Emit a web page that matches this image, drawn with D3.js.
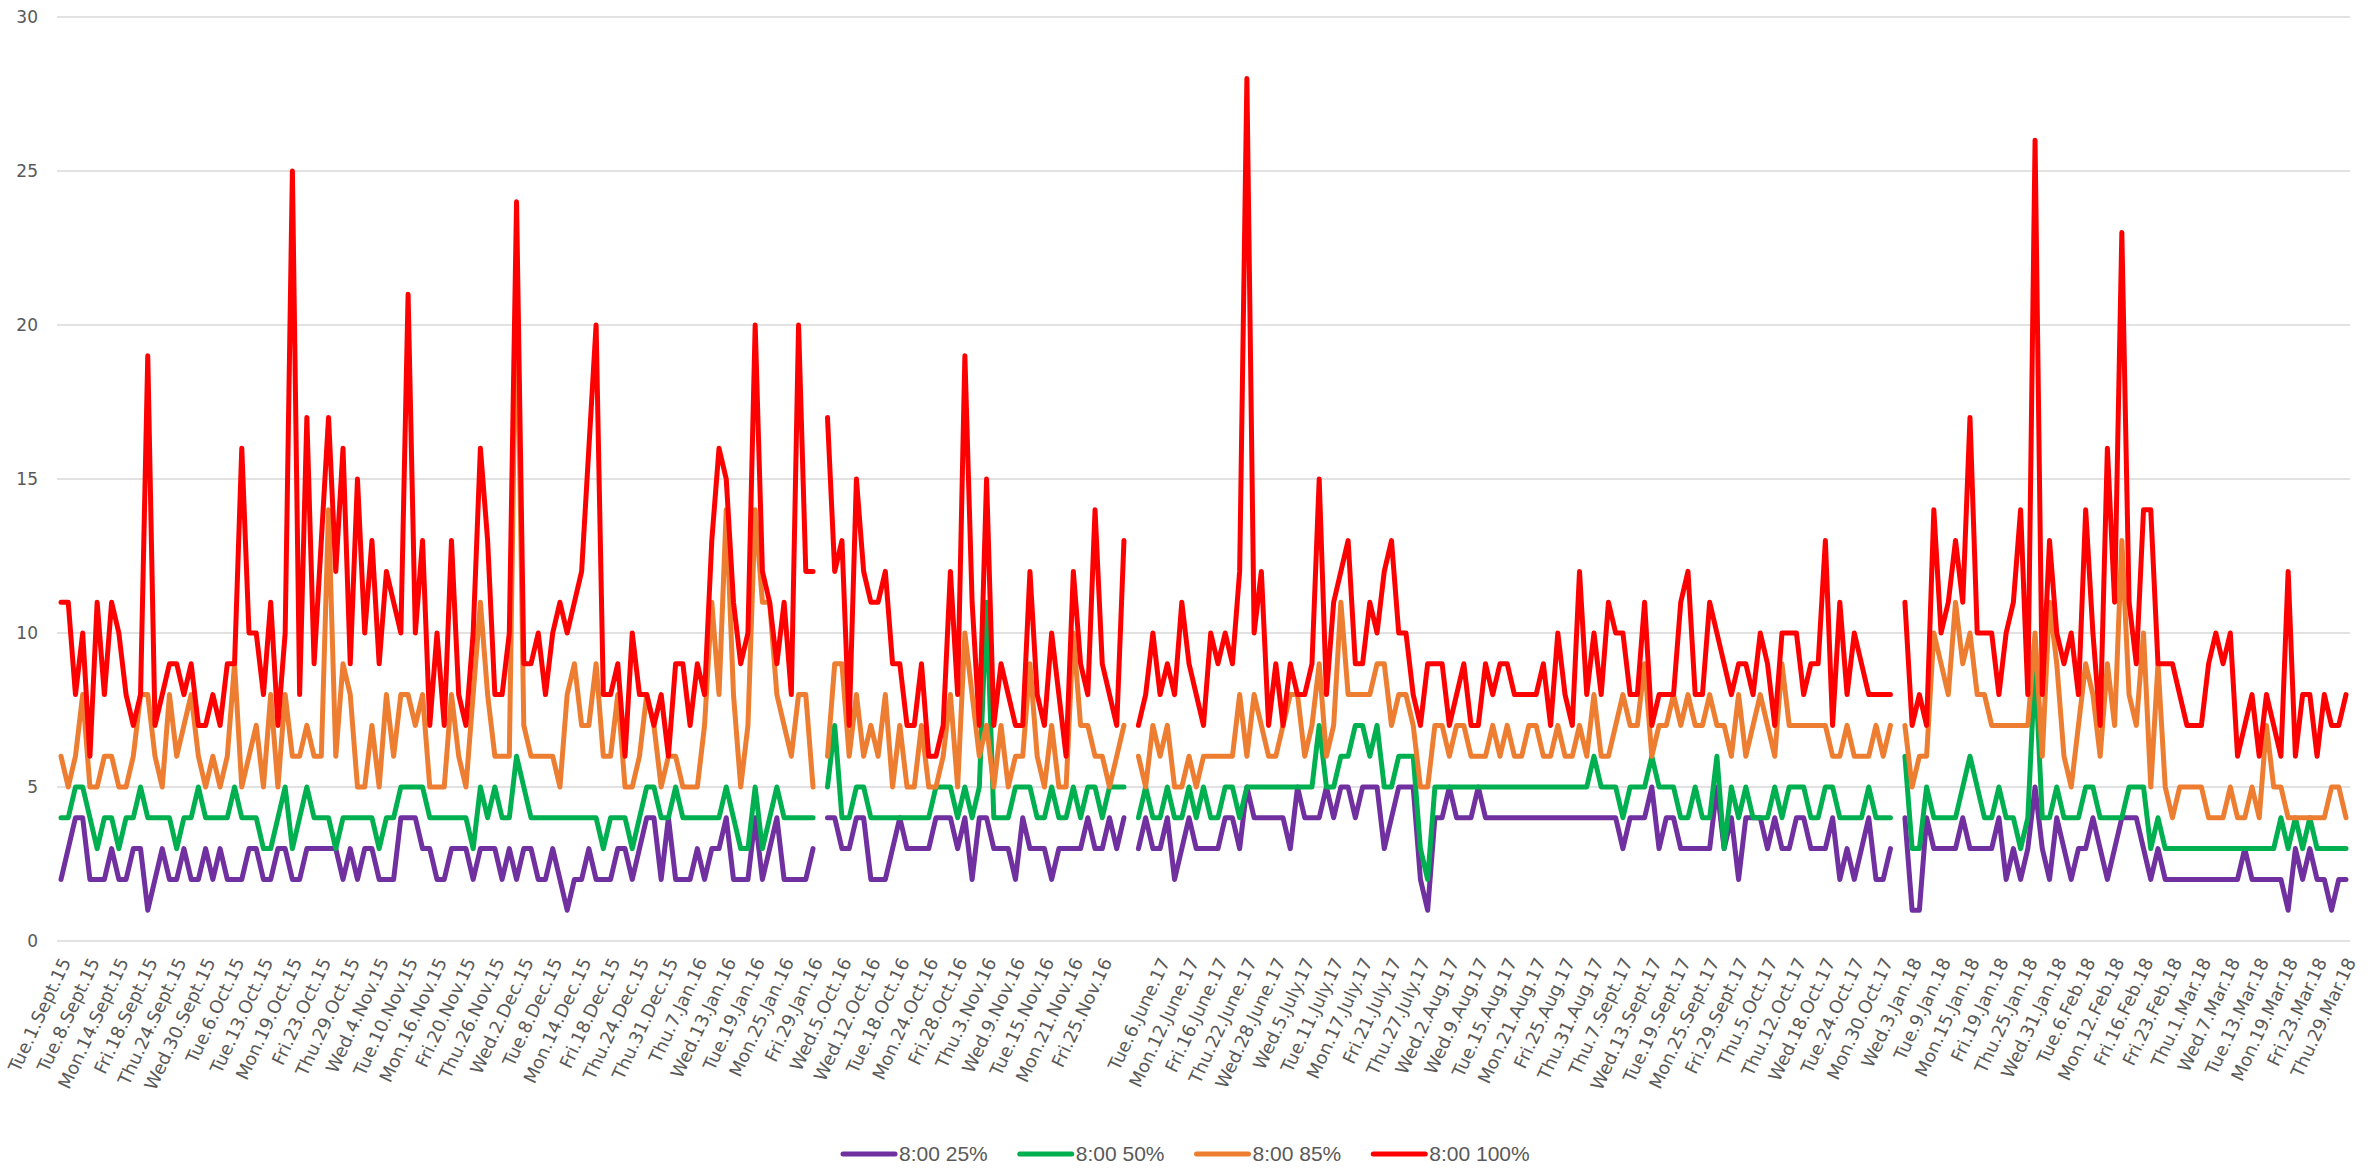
<!DOCTYPE html>
<html><head><meta charset="utf-8">
<script src="https://cdn.jsdelivr.net/npm/d3@7"></script>
<style>html,body{margin:0;padding:0;background:#fff;} svg{display:block;}</style>
</head><body>
<svg id="chart" width="2379" height="1173"></svg>
<script>
// ---- categories (working days; "" = empty row in the sheet) ----
const categories1 = "Tue.1.Sept.15,Wed.2.Sept.15,Thu.3.Sept.15,Fri.4.Sept.15,Tue.8.Sept.15,Wed.9.Sept.15,Thu.10.Sept.15,Fri.11.Sept.15,Mon.14.Sept.15,Tue.15.Sept.15,Wed.16.Sept.15,Thu.17.Sept.15,Fri.18.Sept.15,Mon.21.Sept.15,Tue.22.Sept.15,Wed.23.Sept.15,Thu.24.Sept.15,Fri.25.Sept.15,Mon.28.Sept.15,Tue.29.Sept.15,Wed.30.Sept.15,Thu.1.Oct.15,Fri.2.Oct.15,Mon.5.Oct.15,Tue.6.Oct.15,Wed.7.Oct.15,Thu.8.Oct.15,Fri.9.Oct.15,Tue.13.Oct.15,Wed.14.Oct.15,Thu.15.Oct.15,Fri.16.Oct.15,Mon.19.Oct.15,Tue.20.Oct.15,Wed.21.Oct.15,Thu.22.Oct.15,Fri.23.Oct.15,Mon.26.Oct.15,Tue.27.Oct.15,Wed.28.Oct.15,Thu.29.Oct.15,Fri.30.Oct.15,Mon.2.Nov.15,Tue.3.Nov.15,Wed.4.Nov.15,Thu.5.Nov.15,Fri.6.Nov.15,Mon.9.Nov.15,Tue.10.Nov.15,Wed.11.Nov.15,Thu.12.Nov.15,Fri.13.Nov.15,Mon.16.Nov.15,Tue.17.Nov.15,Wed.18.Nov.15,Thu.19.Nov.15,Fri.20.Nov.15,Mon.23.Nov.15,Tue.24.Nov.15,Wed.25.Nov.15,Thu.26.Nov.15,Fri.27.Nov.15,Mon.30.Nov.15,Tue.1.Dec.15,Wed.2.Dec.15,Thu.3.Dec.15,Fri.4.Dec.15,Mon.7.Dec.15,Tue.8.Dec.15,Wed.9.Dec.15,Thu.10.Dec.15,Fri.11.Dec.15,Mon.14.Dec.15,Tue.15.Dec.15,Wed.16.Dec.15,Thu.17.Dec.15,Fri.18.Dec.15,Mon.21.Dec.15,Tue.22.Dec.15,Wed.23.Dec.15,Thu.24.Dec.15,Mon.28.Dec.15,Tue.29.Dec.15,Wed.30.Dec.15,Thu.31.Dec.15,Mon.4.Jan.16,Tue.5.Jan.16,Wed.6.Jan.16,Thu.7.Jan.16,Fri.8.Jan.16,Mon.11.Jan.16,Tue.12.Jan.16,Wed.13.Jan.16,Thu.14.Jan.16,Fri.15.Jan.16,Mon.18.Jan.16,Tue.19.Jan.16,Wed.20.Jan.16,Thu.21.Jan.16,Fri.22.Jan.16,Mon.25.Jan.16,Tue.26.Jan.16,Wed.27.Jan.16,Thu.28.Jan.16,Fri.29.Jan.16".split(",");
const categories2 = "Mon.3.Oct.16,Tue.4.Oct.16,Wed.5.Oct.16,Thu.6.Oct.16,Fri.7.Oct.16,Tue.11.Oct.16,Wed.12.Oct.16,Thu.13.Oct.16,Fri.14.Oct.16,Mon.17.Oct.16,Tue.18.Oct.16,Wed.19.Oct.16,Thu.20.Oct.16,Fri.21.Oct.16,Mon.24.Oct.16,Tue.25.Oct.16,Wed.26.Oct.16,Thu.27.Oct.16,Fri.28.Oct.16,Mon.31.Oct.16,Tue.1.Nov.16,Wed.2.Nov.16,Thu.3.Nov.16,Fri.4.Nov.16,Mon.7.Nov.16,Tue.8.Nov.16,Wed.9.Nov.16,Thu.10.Nov.16,Fri.11.Nov.16,Mon.14.Nov.16,Tue.15.Nov.16,Wed.16.Nov.16,Thu.17.Nov.16,Fri.18.Nov.16,Mon.21.Nov.16,Tue.22.Nov.16,Wed.23.Nov.16,Thu.24.Nov.16,Fri.25.Nov.16,Mon.28.Nov.16,Tue.29.Nov.16,Wed.30.Nov.16".split(",");
const categories3 = "Thu.1.June.17,Fri.2.June.17,Mon.5.June.17,Tue.6.June.17,Wed.7.June.17,Thu.8.June.17,Fri.9.June.17,Mon.12.June.17,Tue.13.June.17,Wed.14.June.17,Thu.15.June.17,Fri.16.June.17,Mon.19.June.17,Tue.20.June.17,Wed.21.June.17,Thu.22.June.17,Fri.23.June.17,Mon.26.June.17,Tue.27.June.17,Wed.28.June.17,Thu.29.June.17,Fri.30.June.17,Mon.3.July.17,Wed.5.July.17,Thu.6.July.17,Fri.7.July.17,Mon.10.July.17,Tue.11.July.17,Wed.12.July.17,Thu.13.July.17,Fri.14.July.17,Mon.17.July.17,Tue.18.July.17,Wed.19.July.17,Thu.20.July.17,Fri.21.July.17,Mon.24.July.17,Tue.25.July.17,Wed.26.July.17,Thu.27.July.17,Fri.28.July.17,Mon.31.July.17,Tue.1.Aug.17,Wed.2.Aug.17,Thu.3.Aug.17,Fri.4.Aug.17,Tue.8.Aug.17,Wed.9.Aug.17,Thu.10.Aug.17,Fri.11.Aug.17,Mon.14.Aug.17,Tue.15.Aug.17,Wed.16.Aug.17,Thu.17.Aug.17,Fri.18.Aug.17,Mon.21.Aug.17,Tue.22.Aug.17,Wed.23.Aug.17,Thu.24.Aug.17,Fri.25.Aug.17,Mon.28.Aug.17,Tue.29.Aug.17,Wed.30.Aug.17,Thu.31.Aug.17,Fri.1.Sept.17,Tue.5.Sept.17,Wed.6.Sept.17,Thu.7.Sept.17,Fri.8.Sept.17,Mon.11.Sept.17,Tue.12.Sept.17,Wed.13.Sept.17,Thu.14.Sept.17,Fri.15.Sept.17,Mon.18.Sept.17,Tue.19.Sept.17,Wed.20.Sept.17,Thu.21.Sept.17,Fri.22.Sept.17,Mon.25.Sept.17,Tue.26.Sept.17,Wed.27.Sept.17,Thu.28.Sept.17,Fri.29.Sept.17,Mon.2.Oct.17,Tue.3.Oct.17,Wed.4.Oct.17,Thu.5.Oct.17,Fri.6.Oct.17,Tue.10.Oct.17,Wed.11.Oct.17,Thu.12.Oct.17,Fri.13.Oct.17,Mon.16.Oct.17,Tue.17.Oct.17,Wed.18.Oct.17,Thu.19.Oct.17,Fri.20.Oct.17,Mon.23.Oct.17,Tue.24.Oct.17,Wed.25.Oct.17,Thu.26.Oct.17,Fri.27.Oct.17,Mon.30.Oct.17,Tue.31.Oct.17".split(",");
const categories4 = "Tue.2.Jan.18,Wed.3.Jan.18,Thu.4.Jan.18,Fri.5.Jan.18,Mon.8.Jan.18,Tue.9.Jan.18,Wed.10.Jan.18,Thu.11.Jan.18,Fri.12.Jan.18,Mon.15.Jan.18,Tue.16.Jan.18,Wed.17.Jan.18,Thu.18.Jan.18,Fri.19.Jan.18,Mon.22.Jan.18,Tue.23.Jan.18,Wed.24.Jan.18,Thu.25.Jan.18,Fri.26.Jan.18,Mon.29.Jan.18,Tue.30.Jan.18,Wed.31.Jan.18,Thu.1.Feb.18,Fri.2.Feb.18,Mon.5.Feb.18,Tue.6.Feb.18,Wed.7.Feb.18,Thu.8.Feb.18,Fri.9.Feb.18,Mon.12.Feb.18,Tue.13.Feb.18,Wed.14.Feb.18,Thu.15.Feb.18,Fri.16.Feb.18,Tue.20.Feb.18,Wed.21.Feb.18,Thu.22.Feb.18,Fri.23.Feb.18,Mon.26.Feb.18,Tue.27.Feb.18,Wed.28.Feb.18,Thu.1.Mar.18,Fri.2.Mar.18,Mon.5.Mar.18,Tue.6.Mar.18,Wed.7.Mar.18,Thu.8.Mar.18,Fri.9.Mar.18,Mon.12.Mar.18,Tue.13.Mar.18,Wed.14.Mar.18,Thu.15.Mar.18,Fri.16.Mar.18,Mon.19.Mar.18,Tue.20.Mar.18,Wed.21.Mar.18,Thu.22.Mar.18,Fri.23.Mar.18,Mon.26.Mar.18,Tue.27.Mar.18,Wed.28.Mar.18,Thu.29.Mar.18".split(",");
const categories = [...categories1, "", ...categories2, "", ...categories3, "", ...categories4];

const seriesNames = ["8:00 25%", "8:00 50%", "8:00 85%", "8:00 100%"];
const seriesColors = ["#7030A0", "#00B050", "#ED7D31", "#FF0000"];
const yTickValues = [0, 5, 10, 15, 20, 25, 30];
const tickEvery = 4;

const values25 = [
 2,3,4,4,2,2,2,3,2,2,
 3,3,1,2,3,2,2,3,2,2,
 3,2,3,2,2,2,3,3,2,2,
 3,3,2,2,3,3,3,3,3,2,
 3,2,3,3,2,2,2,4,4,4,
 3,3,2,2,3,3,3,2,3,3,
 3,2,3,2,3,3,2,2,3,2,
 1,2,2,3,2,2,2,3,3,2,
 3,4,4,2,4,2,2,2,3,2,
 3,3,4,2,2,2,4,2,3,4,
 2,2,2,2,3,null,4,4,3,3,
 4,4,2,2,2,3,4,3,3,3,
 3,4,4,4,3,4,2,4,4,3,
 3,3,2,4,3,3,3,2,3,3,
 3,3,4,3,3,4,3,4,null,3,
 4,3,3,4,2,3,4,3,3,3,
 3,4,4,3,5,4,4,4,4,4,
 3,5,4,4,4,5,4,5,5,4,
 5,5,5,3,4,5,5,5,2,1,
 4,4,5,4,4,4,5,4,4,4,
 4,4,4,4,4,4,4,4,4,4,
 4,4,4,4,4,4,3,4,4,4,
 5,3,4,4,3,3,3,3,3,5,
 3,4,2,4,4,4,3,4,3,3,
 4,4,3,3,3,4,2,3,2,3,
 4,2,2,3,null,4,1,1,4,3,
 3,3,3,4,3,3,3,3,4,2,
 3,2,3,5,3,2,4,3,2,3,
 3,4,3,2,3,4,4,4,3,2,
 3,2,2,2,2,2,2,2,2,2,
 2,2,3,2,2,2,2,2,1,3,
 2,3,2,2,1,2,2];
const values50 = [
 4,4,5,5,4,3,4,4,3,4,
 4,5,4,4,4,4,3,4,4,5,
 4,4,4,4,5,4,4,4,3,3,
 4,5,3,4,5,4,4,4,3,4,
 4,4,4,4,3,4,4,5,5,5,
 5,4,4,4,4,4,4,3,5,4,
 5,4,4,6,5,4,4,4,4,4,
 4,4,4,4,4,3,4,4,4,3,
 4,5,5,4,4,5,4,4,4,4,
 4,4,5,4,3,3,5,3,4,5,
 4,4,4,4,4,null,5,7,4,4,
 5,5,4,4,4,4,4,4,4,4,
 4,5,5,5,4,5,4,5,11,4,
 4,4,5,5,5,4,4,5,4,4,
 5,4,5,5,4,5,5,5,null,4,
 5,4,4,5,4,4,5,4,5,4,
 4,5,5,4,5,5,5,5,5,5,
 5,5,5,5,7,5,5,6,6,7,
 7,6,7,5,5,6,6,6,3,2,
 5,5,5,5,5,5,5,5,5,5,
 5,5,5,5,5,5,5,5,5,5,
 5,5,6,5,5,5,4,5,5,5,
 6,5,5,5,4,4,5,4,4,6,
 3,5,4,5,4,4,4,5,4,5,
 5,5,4,4,5,5,4,4,4,4,
 5,4,4,4,null,6,3,3,5,4,
 4,4,4,5,6,5,4,4,5,4,
 4,3,4,9,4,4,5,4,4,4,
 5,5,4,4,4,4,5,5,5,3,
 4,3,3,3,3,3,3,3,3,3,
 3,3,3,3,3,3,3,4,3,4,
 3,4,3,3,3,3,3];
const values85 = [
 6,5,6,8,5,5,6,6,5,5,
 6,8,8,6,5,8,6,7,8,6,
 5,6,5,6,9,5,6,7,5,8,
 5,8,6,6,7,6,6,14,6,9,
 8,5,5,7,5,8,6,8,8,7,
 8,5,5,5,8,6,5,8,11,8,
 6,6,6,22,7,6,6,6,6,5,
 8,9,7,7,9,6,6,8,5,5,
 6,8,7,5,6,6,5,5,5,7,
 11,8,14,8,5,7,14,11,11,8,
 7,6,8,8,5,null,6,9,9,6,
 8,6,7,6,8,5,7,5,5,7,
 5,5,6,8,5,10,8,6,7,5,
 7,5,6,6,9,6,5,7,5,5,
 10,7,7,6,6,5,6,7,null,6,
 5,7,6,7,5,5,6,5,6,6,
 6,6,6,8,6,8,7,6,6,7,
 8,8,6,7,9,6,7,11,8,8,
 8,8,9,9,7,8,8,7,5,5,
 7,7,6,7,7,6,6,6,7,6,
 7,6,6,7,7,6,6,7,6,6,
 7,6,8,6,6,7,8,7,7,9,
 6,7,7,8,7,8,7,7,8,7,
 7,6,8,6,7,8,7,6,9,7,
 7,7,7,7,7,6,6,7,6,6,
 6,7,6,7,null,7,5,6,6,10,
 9,8,11,9,10,8,8,7,7,7,
 7,7,7,10,6,11,9,6,5,7,
 9,8,6,9,7,13,8,7,10,5,
 9,5,4,5,5,5,5,4,4,4,
 5,4,4,5,4,7,5,5,4,4,
 4,4,4,4,5,5,4];
const values100 = [
 11,11,8,10,6,11,8,11,10,8,
 7,8,19,7,8,9,9,8,9,7,
 7,8,7,9,9,16,10,10,8,11,
 7,10,25,8,17,9,13,17,12,16,
 9,15,10,13,9,12,11,10,21,10,
 13,7,10,7,13,8,7,10,16,13,
 8,8,10,24,9,9,10,8,10,11,
 10,11,12,16,20,8,8,9,6,10,
 8,8,7,8,6,9,9,7,9,8,
 13,16,15,11,9,10,20,12,11,9,
 11,8,20,12,12,null,17,12,13,7,
 15,12,11,11,12,9,9,7,7,9,
 6,6,7,12,8,19,11,7,15,7,
 9,8,7,7,12,8,7,10,8,6,
 12,9,8,14,9,8,7,13,null,7,
 8,10,8,9,8,11,9,8,7,10,
 9,10,9,12,28,10,12,7,9,7,
 9,8,8,9,15,8,11,12,13,9,
 9,11,10,12,13,10,10,8,7,9,
 9,9,7,8,9,7,7,9,8,9,
 9,8,8,8,8,9,7,10,8,7,
 12,8,10,8,11,10,10,8,8,11,
 7,8,8,8,11,12,8,8,11,10,
 9,8,9,9,8,10,9,7,10,10,
 10,8,9,9,13,7,11,8,10,9,
 8,8,8,8,null,11,7,8,7,14,
 10,11,13,11,17,10,10,10,8,10,
 11,14,8,26,8,13,10,9,10,8,
 14,10,7,16,11,23,11,9,14,14,
 9,9,9,8,7,7,7,9,10,9,
 10,6,7,8,6,8,7,6,12,6,
 8,8,6,8,7,7,8];
const seriesValues = [values25, values50, values85, values100];

// ---- drawing ----
const svg = d3.select("#chart");
const N = categories.length;
const x = d3.scalePoint().domain(d3.range(N)).range([61, 2346]);
const y = d3.scaleLinear().domain([0, 30]).range([941, 17]);

// gridlines
svg.append("g").selectAll("line").data(yTickValues).join("line")
  .attr("x1", 57).attr("x2", 2350)
  .attr("y1", d => y(d)).attr("y2", d => y(d))
  .attr("stroke", "#D9D9D9").attr("stroke-width", 1.5);

// y axis labels
const gy = svg.append("g").attr("transform", "translate(38,0)")
  .call(d3.axisLeft(y).tickValues(yTickValues).tickSize(0).tickPadding(0).tickFormat(d3.format("d")));
gy.select(".domain").remove();
gy.attr("font-family", "'DejaVu Sans', Verdana, sans-serif").attr("font-size", 17);
gy.selectAll("text").attr("fill", "#595959");

// x axis labels (every 4th category)
const gx = svg.append("g").attr("transform", "translate(0,948)")
  .call(d3.axisBottom(x).tickValues(d3.range(0, N, tickEvery)).tickSize(0).tickFormat(i => categories[i]));
gx.select(".domain").remove();
gx.attr("font-family", "'DejaVu Sans', Verdana, sans-serif").attr("font-size", 18);
gx.selectAll("text")
  .attr("fill", "#595959")
  .attr("x", 0).attr("y", 0).attr("dy", "0.35em")
  .attr("text-anchor", "end")
  .attr("transform", "translate(4,11) rotate(-65)");

// lines
const line = d3.line()
  .defined(d => d != null)
  .x((d, i) => x(i))
  .y(d => y(d));
svg.append("g").selectAll("path").data(seriesValues).join("path")
  .attr("d", d => line(d))
  .attr("fill", "none")
  .attr("stroke", (d, i) => seriesColors[i])
  .attr("stroke-width", 5)
  .attr("stroke-linejoin", "round")
  .attr("stroke-linecap", "round");

// legend
const legend = svg.append("g").attr("transform", "translate(0,1154)")
  .attr("font-family", "'Liberation Sans', Arial, sans-serif").attr("font-size", 21);
let lx = 841;
seriesNames.forEach((name, i) => {
  const g = legend.append("g").attr("transform", `translate(${lx},0)`);
  g.append("line").attr("x1", 2).attr("x2", 54).attr("y1", 0).attr("y2", 0)
    .attr("stroke", seriesColors[i]).attr("stroke-width", 5).attr("stroke-linecap", "round");
  const t = g.append("text").attr("x", 58).attr("dy", "0.35em").attr("fill", "#595959").text(name);
  lx += 58 + t.node().getComputedTextLength() + 30;
});
</script>
</body></html>
